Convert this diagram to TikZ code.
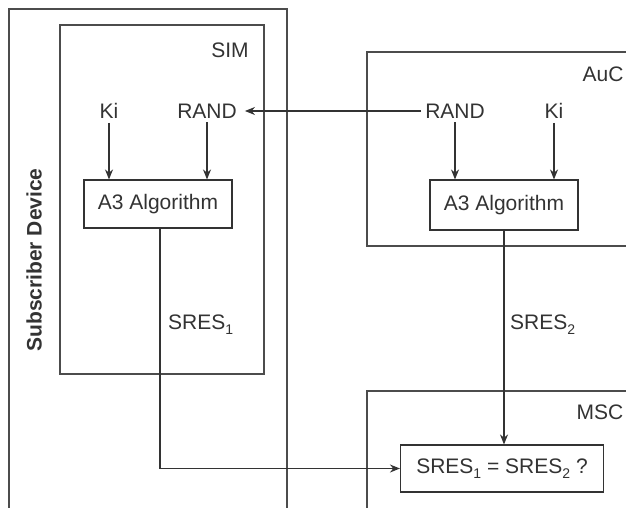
\documentclass[tikz,border=0pt]{standalone}
\usepackage{fontspec}
\setmainfont{Liberation Sans}
\usetikzlibrary{arrows.meta}
\definecolor{ink}{HTML}{333333}
\newcommand\subidx[1]{\raisebox{-5pt}{\fontsize{14}{14}\selectfont #1}}
\tikzset{
  txt/.style={font=\fontsize{21}{25}\selectfont, text=ink, inner sep=4pt},
  algbox/.style={txt, draw=ink, line width=1.1pt, minimum width=148pt, minimum height=48pt},
  frame/.style={draw=black!70, line width=1.1pt},
  arr/.style={draw=ink, line width=1.1pt, -{Stealth[length=10pt,width=8pt]}},
  ln/.style={draw=ink, line width=1.1pt}
}
\begin{document}
\begin{tikzpicture}[x=1pt,y=-1pt]
\clip (0,0) rectangle (626,508);
\fill[white] (0,0) rectangle (626,508);
% containers
\draw[frame] (9,9) rectangle (287,530);
\draw[frame] (60,25) rectangle (264,374);
\draw[frame] (367,52) rectangle (640,246);
\draw[frame] (367,391) rectangle (640,530);
% container labels
\node[txt, font=\fontsize{21}{25}\selectfont\bfseries, rotate=90] (dev) at (34,260) {Subscriber Device};
\node[txt] (sim) at (230,50) {SIM};
\node[txt] (auc) at (603,74) {AuC};
\node[txt] (msc) at (600,412) {MSC};
% SIM side
\node[txt] (ki1) at (109,111) {Ki};
\node[txt] (rand1) at (207,111) {RAND};
\node[algbox] (a31) at (158,204) {A3 Algorithm};
% AuC side
\node[txt] (rand2) at (455,111) {RAND};
\node[txt] (ki2) at (554,111) {Ki};
\node[algbox, minimum height=50pt] (a32) at (504,205) {A3 Algorithm};
% MSC
\node[algbox, minimum width=203pt, minimum height=47pt] (cmp) at (502,468.5) {SRES\subidx{1} = SRES\subidx{2} ?};
% labels
\node[txt, anchor=west] (s1) at (164,325) {SRES\subidx{1}};
\node[txt, anchor=west] (s2) at (506,325) {SRES\subidx{2}};
% connectors
\draw[arr] (ki1.south) -- (ki1.south |- a31.north);
\draw[arr] (rand1.south) -- (rand1.south |- a31.north);
\draw[arr] (rand2.south) -- (rand2.south |- a32.north);
\draw[arr] (ki2.south) -- (ki2.south |- a32.north);
\draw[arr] (rand2.west) -- ([xshift=4pt]rand1.east);
\draw[arr] ([xshift=2pt]a31.south) |- (cmp.west);
\draw[arr] (a32.south) -- (a32.south |- cmp.north);
\end{tikzpicture}
\end{document}
